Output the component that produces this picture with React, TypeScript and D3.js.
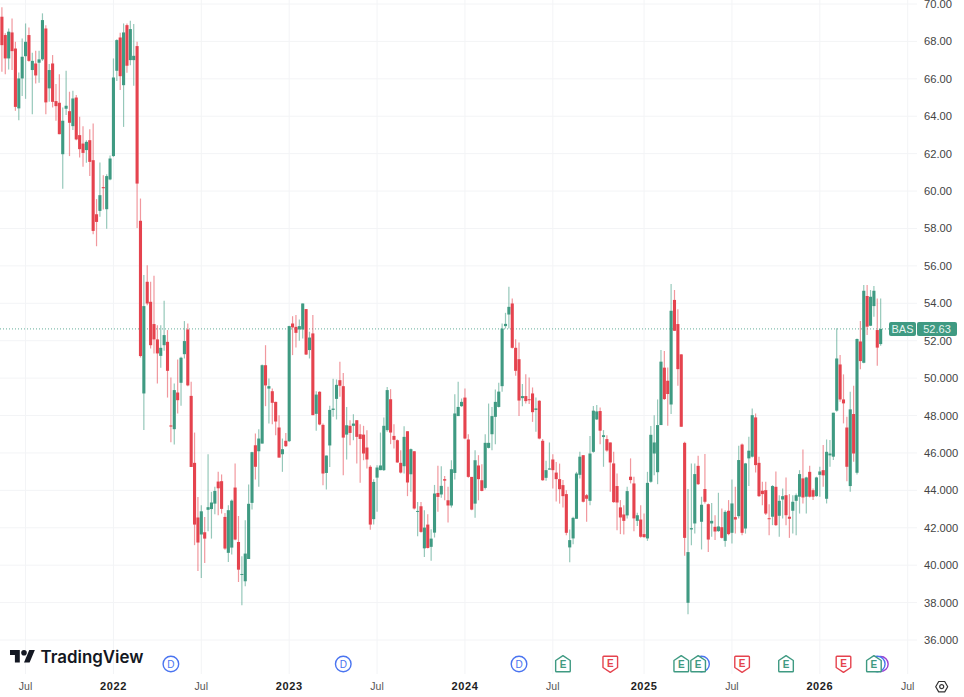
import * as d3 from "d3";

// weekly candles: [open, high, low, close]
const candles2021 = [
  [69.32,69.82,66.38,67.80],[68.34,68.43,66.25,67.09],[67.09,68.69,66.50,68.52],[68.48,69.23,66.47,67.48],
  [67.62,67.98,64.29,64.50],[64.42,66.34,63.79,66.02],[66.02,68.16,65.08,67.18],[67.21,68.96,64.93,67.98],
  [68.34,68.75,66.91,66.96],[66.47,67.39,64.11,66.96],[66.82,67.50,65.75,66.18],[66.86,67.50,65.79,67.04],
  [67.04,69.50,66.96,69.14],[68.69,68.87,64.11,64.74],[65.49,66.79,64.77,66.47],[66.82,67.27,64.47,64.77],
  [64.81,65.72,63.76,64.54],[64.72,66.25,63.04,63.04],[61.97,64.47,60.12,63.76],[64.40,66.43,64.06,64.56],
  [64.27,65.31,61.87,63.65],[63.47,65.36,63.26,64.95],[65.00,65.13,62.72,62.76],[62.99,63.97,61.79,62.24],
  [62.54,63.47,61.30,62.04],[62.19,62.72,61.51,62.63],[62.72,63.31,60.81,61.56],[61.65,63.61,57.69,57.87],
  [58.76,59.57,57.05,58.35],[58.94,61.53,58.62,59.78],[60.21,60.85,59.01,60.15],[59.03,60.90,57.98,60.80],
  [60.62,61.90,60.58,61.74],
];
const candles2022 = [
  [61.87,67.09,61.83,66.07],[66.43,68.12,65.88,68.07],[68.21,68.46,65.40,66.14],[65.66,68.96,63.43,68.48],
  [68.87,68.96,66.32,66.70],[67.00,69.10,66.73,68.66],[67.00,68.93,65.63,67.23],[67.75,67.98,58.03,60.40],
  [58.41,59.60,51.10,51.18],[49.18,55.51,47.22,53.85],[55.15,56.04,53.90,53.99],[54.08,55.15,51.58,51.76],
  [52.89,55.47,51.32,52.07],[52.07,52.83,49.71,51.32],[51.19,52.83,50.55,51.62],[51.76,54.13,51.46,52.30],
  [51.94,52.57,48.96,50.39],[47.47,50.03,46.57,47.41],[47.27,49.71,46.45,49.36],[49.23,51.00,48.11,48.82],
  [49.75,51.14,48.52,51.09],[51.28,53.05,51.05,51.98],[52.60,52.92,49.57,49.61],[49.05,49.80,45.25,45.25],
  [45.47,47.09,41.07,42.17],[42.55,43.65,39.69,41.21],[41.64,43.21,39.32,42.88],[41.76,42.58,40.12,41.42],
  [42.96,45.93,41.81,43.10],[43.00,43.92,41.42,43.35],[43.29,44.19,42.72,43.97],[44.47,45.00,42.67,44.11],
  [44.49,44.85,42.76,43.01],[42.58,42.79,40.83,40.89],[40.66,43.21,40.17,42.94],[40.94,43.51,40.57,43.45],
  [44.15,45.43,41.33,41.37],[41.24,42.63,39.10,39.76],[39.48,40.48,37.86,39.53],[39.14,42.40,38.87,40.62],
  [40.33,44.31,40.33,43.28],[43.33,46.06,42.97,46.04],[46.41,47.04,44.58,45.26],[46.09,47.27,44.19,46.77],
  [46.50,50.73,46.50,50.69],[50.69,51.76,48.50,49.61],[49.44,49.98,47.57,49.57],[49.30,49.45,47.54,48.68],
  [48.73,48.73,46.95,47.68],[47.36,48.02,45.75,45.75],[45.93,46.77,44.99,46.20],[46.65,47.07,46.32,46.36],
];
const candles2023 = [
  [46.63,52.80,46.59,52.78],[52.92,53.31,51.23,52.71],[52.74,53.37,51.64,52.42],[52.60,53.14,52.00,52.78],
  [52.60,53.99,52.12,53.99],[53.69,53.69,51.23,51.26],[51.50,52.48,51.05,52.17],[52.39,53.37,48.02,48.02],
  [48.09,49.30,47.18,49.12],[49.27,49.30,47.48,47.52],[47.50,47.57,44.27,44.90],[44.93,45.86,44.04,45.86],
  [46.40,48.52,45.25,48.30],[48.30,49.96,47.93,48.37],[48.89,49.93,47.79,49.64],[49.89,50.87,49.00,49.59],
  [49.57,50.28,44.81,46.82],[46.98,48.46,45.65,47.48],[47.45,47.75,46.41,47.07],[47.45,48.07,46.68,47.57],
  [47.75,47.75,45.43,46.86],[47.00,47.54,44.40,46.75],[46.98,47.45,45.61,45.97],[46.29,47.21,45.17,45.65],
  [45.26,45.34,41.90,42.17],[42.46,44.60,42.17,44.45],[44.68,45.34,42.85,45.22],[45.08,47.09,45.08,45.33],
  [45.08,47.89,45.04,47.45],[47.22,49.53,47.13,49.36],[48.87,49.41,46.47,47.09],[46.91,47.54,46.24,46.70],
  [46.68,46.72,45.47,45.49],[45.47,46.15,44.90,44.95],[45.29,47.43,44.90,46.86],[47.16,47.16,43.69,44.42],
  [44.86,46.24,43.92,46.20],[46.09,46.09,42.97,43.03],[42.85,43.38,41.55,42.90],[43.15,43.38,41.73,41.78],
  [40.90,42.94,40.44,42.01],[42.17,42.72,40.89,40.92],[40.98,41.92,40.23,41.42],[41.74,44.29,41.48,43.83],
  [43.86,45.31,42.85,43.65],[43.78,45.29,43.61,44.24],[44.60,44.77,43.47,44.52],[43.47,44.19,42.28,43.19],
  [43.19,45.61,43.08,45.13],[44.93,49.14,44.58,48.11],[47.97,49.80,47.97,48.46],[48.50,48.91,48.46,48.73],
];
const candles2024 = [
  [48.96,49.45,46.73,46.77],[46.72,47.00,44.68,44.72],[44.72,44.72,42.94,42.97],[43.29,46.15,42.54,45.61],
  [45.33,45.88,43.47,44.60],[44.54,45.40,43.95,43.97],[44.13,47.00,44.04,46.54],[46.27,48.64,46.24,46.54],
  [47.00,48.46,46.15,47.97],[47.93,49.39,46.47,48.73],[48.46,49.75,48.43,49.28],[49.57,52.92,49.27,52.65],
  [52.78,53.49,52.65,52.90],[53.40,54.88,52.65,53.81],[53.99,54.26,51.58,51.62],[51.62,52.08,50.12,50.39],
  [51.01,51.91,47.97,48.80],[48.93,49.68,48.50,49.04],[49.04,50.21,48.64,48.77],[48.87,50.03,48.61,48.82],
  [49.18,49.50,47.66,48.18],[48.30,48.96,47.13,48.38],[48.79,48.82,46.73,46.77],[46.65,46.75,44.51,44.54],
  [44.67,45.58,44.51,45.08],[45.11,46.56,45.11,45.17],[45.65,45.93,44.10,45.08],[44.95,45.52,43.40,44.60],
  [44.60,45.43,43.29,44.06],[44.28,44.55,43.08,43.69],[43.80,44.01,41.60,41.73],[40.95,41.91,40.16,41.34],
  [41.43,42.59,41.12,42.53],[42.48,44.99,42.48,44.90],[44.83,46.06,44.64,45.80],[45.88,45.88,43.35,43.39],
  [43.74,43.80,42.32,43.55],[43.44,46.90,43.21,45.97],[46.06,48.51,46.01,48.26],[47.79,48.56,47.76,48.22],
  [48.24,48.43,46.46,47.19],[46.85,47.22,45.26,46.95],[46.74,46.95,46.06,46.13],[46.56,46.56,43.92,45.49],
  [45.44,46.06,43.34,43.37],[44.23,44.90,41.87,43.35],[43.09,43.48,41.66,42.55],[42.71,43.21,41.64,42.37],
  [42.66,44.19,42.50,43.96],[44.73,45.71,44.37,44.55],[44.37,44.73,41.82,42.50],[42.37,42.80,42.10,42.67],
  [42.44,43.21,41.46,41.52],
];
const candles2025 = [
  [41.66,42.76,41.46,41.50],[41.43,44.99,41.30,44.40],[44.46,47.44,44.40,46.97],[45.97,48.02,44.81,46.56],
  [44.97,48.86,44.33,47.49],[47.49,51.50,47.49,50.88],[50.56,51.45,48.83,48.88],[49.86,50.57,47.45,49.15],
  [48.59,55.03,48.08,53.60],[54.18,54.71,52.52,52.53],[52.89,53.68,49.59,50.48],[51.27,51.27,47.40,47.40],
  [46.54,46.60,40.50,41.46],[37.99,44.07,37.38,40.70],[41.91,45.44,41.07,41.98],[42.23,45.44,41.69,44.87],
  [45.31,45.85,44.28,44.33],[42.32,43.66,40.84,43.23],[44.07,45.94,43.30,43.39],[43.26,43.30,40.71,41.37],
  [42.23,43.33,41.52,42.37],[42.05,42.67,41.34,41.80],[41.82,43.87,41.78,42.07],[42.03,43.03,41.43,41.46],
  [41.30,42.94,40.98,42.85],[42.91,43.48,41.60,41.66],[41.73,44.58,41.16,43.30],[42.57,44.19,41.69,42.44],
  [42.62,46.38,42.50,45.62],[46.45,46.51,41.60,41.73],[41.96,45.47,41.69,45.44],[45.71,46.87,44.23,46.12],
  [45.80,48.38,45.76,48.02],[47.90,48.11,44.96,45.35],[45.47,45.80,43.65,43.69],[43.98,44.46,43.21,43.80],
  [44.01,44.46,42.68,42.76],[42.51,43.26,41.60,42.46],[42.59,44.28,42.14,44.23],[44.19,45.01,42.09,42.14],
  [42.64,43.74,41.52,43.44],[43.51,44.10,42.50,43.69],[43.74,44.69,42.14,42.67],[42.59,43.80,41.46,42.48],
  [42.91,43.74,41.69,43.39],[43.44,43.83,41.60,43.74],[43.66,45.08,42.76,44.87],[44.64,46.19,43.30,43.62],
  [43.66,44.73,42.76,44.69],[44.99,45.31,43.62,43.66],[44.01,44.10,43.48,43.66],[43.69,44.73,43.66,44.69],
];
const candles2026 = [
  [44.83,45.26,43.66,45.01],[45.08,46.42,44.19,44.80],[43.55,46.72,43.30,46.06],[45.87,46.69,45.26,45.97],
  [45.80,48.15,45.62,48.15],[48.26,52.66,48.20,51.05],[50.73,51.23,48.74,48.86],[48.86,50.20,47.58,48.65],
  [47.36,47.93,44.49,45.26],[44.23,49.27,43.92,48.33],[48.08,49.59,45.53,45.97],[44.94,52.12,44.85,52.09],
  [51.96,53.05,50.48,50.91],[50.82,54.98,50.79,54.67],[54.39,54.98,52.30,52.75],[52.80,54.71,52.78,54.35],
  [53.85,54.92,53.28,54.67],[52.57,54.26,50.66,51.63],[51.82,54.26,51.73,52.63],
];

const priceTicks = [70, 68, 66, 64, 62, 60, 58, 56, 54, 52, 50, 48, 46, 44, 42, 40, 38, 36];
const priceLabels = ["70.00", "68.00", "66.00", "64.00", "62.00", "60.00", "58.00", "56.00", "54.00", "52.00", "50.000", "48.000", "46.000", "44.000", "42.000", "40.000", "38.000", "36.000"];
// candle number each time label sits on
const timeTicks = [7, 33, 59, 85, 111, 137, 163, 190, 216, 242, 268];
const timeLabels = ["Jul", "2022", "Jul", "2023", "Jul", "2024", "Jul", "2025", "Jul", "2026", "Jul"];
const dividendMarks = [50, 101, 153];
// these two sit behind an earnings flag, so only their rim shows
const hiddenDividends = [207, 259];
const earningsBeat = [166, 201, 206, 232, 258];
const earningsMiss = [180, 219, 249];
const splitMarks = [260];
const lastPrice = 52.63;
const symbol = "BAS";

const candles = [...candles2021, ...candles2022, ...candles2023, ...candles2024, ...candles2025, ...candles2026];

const UP = "#3f9a82";
const DOWN = "#e5434e";
const BLUE = "#4a74f0";
const GRID = "#f3f4f6";
const FONT = "'Liberation Sans', Arial, sans-serif";

export default function App() {
  const width = 964;
  const height = 697;
  const x = d3.scaleLinear().domain([0, 268]).range([1.9, 907.7]);
  const y = d3.scaleLinear().domain([36, 70]).range([640, 4]);

  const markY = 664;

  return (
    <svg width={width} height={height} style={{ position: "fixed", left: 0, top: 0, background: "#fff" }} fontFamily={FONT}>
      {/* grid */}
      {priceTicks.map(p => (
        <line key={p} x1={0} x2={917} y1={y(p)} y2={y(p)} stroke={GRID} />
      ))}
      {timeTicks.map(t => (
        <line key={t} x1={x(t)} x2={x(t)} y1={0} y2={674} stroke={GRID} />
      ))}

      {/* last price line */}
      <line x1={0} x2={889} y1={y(lastPrice)} y2={y(lastPrice)} stroke={UP} strokeOpacity={0.8} strokeWidth={1} strokeDasharray="1 2" />

      {/* candles */}
      {candles.map(([o, h, l, c], i) => {
        const color = c >= o ? UP : DOWN;
        const top = y(Math.max(o, c));
        const bottom = y(Math.min(o, c));
        return (
          <g key={i}>
            <line x1={x(i)} x2={x(i)} y1={y(h)} y2={y(l)} stroke={color} strokeOpacity={0.55} strokeWidth={1.2} />
            <rect x={x(i) - 1.55} width={3.1} y={top} height={Math.max(bottom - top, 1)} fill={color} />
          </g>
        );
      })}

      {/* price axis */}
      {priceTicks.map((p, i) => (
        <text key={p} x={924} y={y(p) + 4} fontSize={11.2} fill="#444">{priceLabels[i]}</text>
      ))}
      <rect x={889} y={y(lastPrice) - 7} width={27} height={14} rx={2} fill={UP} />
      <rect x={917} y={y(lastPrice) - 7} width={40} height={14} rx={2} fill={UP} />
      <text x={902.5} y={y(lastPrice) + 4} fontSize={11} fill="#e6f3ef" textAnchor="middle">{symbol}</text>
      <text x={937} y={y(lastPrice) + 4} fontSize={11} fill="#e6f3ef" textAnchor="middle">{lastPrice.toFixed(2)}</text>

      {/* time axis */}
      {timeTicks.map((t, i) => {
        const isYear = timeLabels[i] !== "Jul";
        return (
          <text key={t} x={x(t)} y={690} fontSize={isYear ? 11 : 10.5} textAnchor="middle"
            fontWeight={isYear ? 700 : 400} letterSpacing={isYear ? 0.6 : 0} fill={isYear ? "#222" : "#555"}>
            {timeLabels[i]}
          </text>
        );
      })}

      {/* splits and dividends sit behind the earnings flags */}
      {splitMarks.map(t => (
        <circle key={t} cx={x(t)} cy={markY} r={7.5} fill="#fff" stroke="#9c3fd0" strokeWidth={1.4} />
      ))}
      {hiddenDividends.map(t => (
        <circle key={t} cx={x(t)} cy={markY} r={7.8} fill="#fff" stroke={BLUE} strokeWidth={1.4} />
      ))}
      {dividendMarks.map(t => (
        <g key={t}>
          <circle cx={x(t)} cy={markY} r={7.8} fill="#fff" stroke={BLUE} strokeWidth={1.4} />
          <text x={x(t)} y={markY + 3.7} fontSize={10} fill={BLUE} textAnchor="middle">D</text>
        </g>
      ))}
      {earningsBeat.map(t => (
        <g key={t} transform={`translate(${x(t)},${markY})`}>
          <path d="M-7.3,-3.5 L0,-8.3 L7.3,-3.5 V7 Q7.3,7.8 6.5,7.8 H-6.5 Q-7.3,7.8 -7.3,7 Z" fill="#fff" stroke={UP} strokeWidth={1.4} strokeLinejoin="round" />
          <text y={3.9} fontSize={10} fontWeight={700} fill={UP} textAnchor="middle">E</text>
        </g>
      ))}
      {earningsMiss.map(t => (
        <g key={t} transform={`translate(${x(t)},${markY})`}>
          <path d="M-7.3,3.5 L0,8.3 L7.3,3.5 V-7 Q7.3,-7.8 6.5,-7.8 H-6.5 Q-7.3,-7.8 -7.3,-7 Z" fill="#fff" stroke={DOWN} strokeWidth={1.4} strokeLinejoin="round" />
          <text y={3.2} fontSize={10} fontWeight={700} fill={DOWN} textAnchor="middle">E</text>
        </g>
      ))}

      {/* logo */}
      <g transform="translate(10,647.2) scale(0.7)" fill="#131722">
        <path d="M14 22H7V11H0V4h14v18zM28 22h-8l7.5-18h8L28 22z" />
        <circle cx={20} cy={8} r={4} />
      </g>
      <text x={40.5} y={662.5} fontFamily="Inter, sans-serif" fontSize={16.9} fontWeight={600} fill="#131722">TradingView</text>

      {/* settings icon */}
      <g transform="translate(941.7,686.7)" fill="none" stroke="#333" strokeWidth={1.2}>
        <path d="M-3,-5.2 H3 L6,0 L3,5.2 H-3 L-6,0 Z" strokeLinejoin="round" />
        <circle r={2} />
      </g>
    </svg>
  );
}
